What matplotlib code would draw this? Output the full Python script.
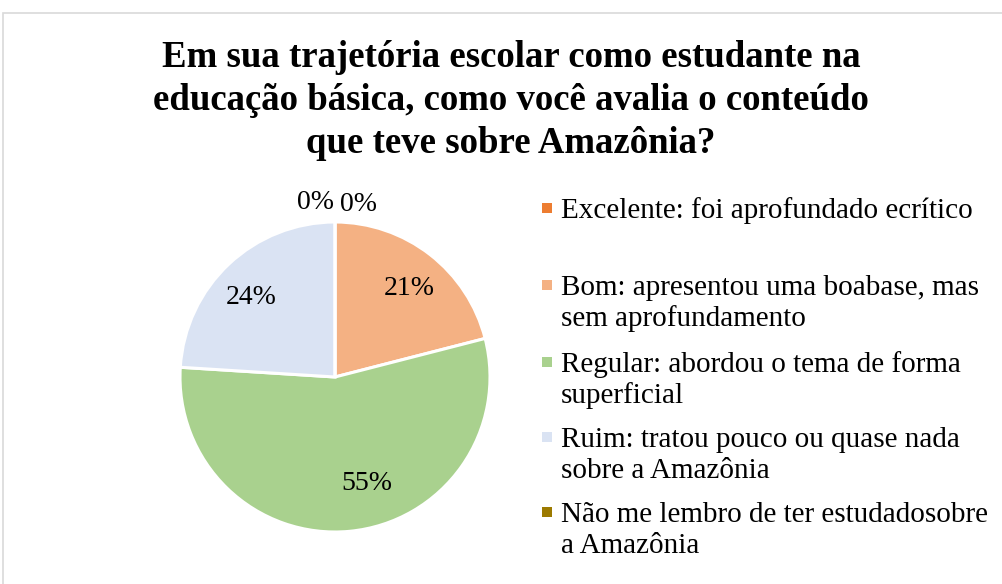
import matplotlib
matplotlib.use("Agg")
import matplotlib.pyplot as plt
from matplotlib.patches import Rectangle

plt.rcParams['font.family'] = ['Liberation Serif', 'DejaVu Serif']

title = "Em sua trajetória escolar como estudante na\neducação básica, como você avalia o conteúdo\nque teve sobre Amazônia?"
categories = [
    "Excelente: foi aprofundado ecrítico",
    "Bom: apresentou uma boabase, mas\nsem aprofundamento",
    "Regular: abordou o tema de forma\nsuperficial",
    "Ruim: tratou pouco ou quase nada\nsobre a Amazônia",
    "Não me lembro de ter estudadosobre\na Amazônia",
]
values = [0, 21, 55, 24, 0]
colors = ["#ED7D31", "#F4B183", "#A9D18E", "#DAE3F3", "#9C7A00"]

W, H = 1003, 584
fig = plt.figure(figsize=(W / 100, H / 100), dpi=100)

def fy(y):
    return 1 - y / H

# border
fig.patches.append(Rectangle((3.5 / W, -0.01), 1.1, fy(12.5) + 0.01, transform=fig.transFigure,
                             fill=False, edgecolor="#D9D9D9", linewidth=1.2))

# title, one text per line at its baseline
title_baselines = [67, 110, 153]
for line, yb in zip(title.split("\n"), title_baselines):
    fig.text(511 / W, fy(yb), line, ha="center", va="baseline", fontsize=26.5,
             fontweight="bold")

cx, cy, r = 335, H - 377, 155
lim = 1.2
ax = fig.add_axes([(cx - r * lim) / W, (cy - r * lim) / H, 2 * r * lim / W, 2 * r * lim / H])
wedges, texts, autotexts = ax.pie(values, colors=colors, startangle=90, counterclock=False,
                                  autopct=lambda p: f"{p:.0f}%", pctdistance=0.73,
                                  wedgeprops=dict(edgecolor="white", linewidth=2.2),
                                  textprops=dict(fontsize=20))
ax.set_xlim(-lim, lim)
ax.set_ylim(-lim, lim)
ax.set_aspect("auto")
ax.axis("off")

label_pos = [(0.152, 1.11), (0.477, 0.568), (0.203, -0.684), (-0.54, 0.51), (-0.129, 1.129)]
for t, p in zip(autotexts, label_pos):
    t.set_position(p)
    t.set_ha("center")
    t.set_va("center")

# legend (manual, Excel-style: marker aligned with first line)
first_baselines = [218, 295, 372, 447, 522]
line_h = 31
s = 10
for lab, col, yb in zip(categories, colors, first_baselines):
    for i, line in enumerate(lab.split("\n")):
        fig.text(561 / W, fy(yb + i * line_h), line, ha="left", va="baseline", fontsize=21)
    fig.patches.append(Rectangle((542 / W, fy(yb - 10 + s / 2)), s / W, s / H,
                                 transform=fig.transFigure, facecolor=col, edgecolor="none"))

fig.savefig("out.png", dpi=100)
